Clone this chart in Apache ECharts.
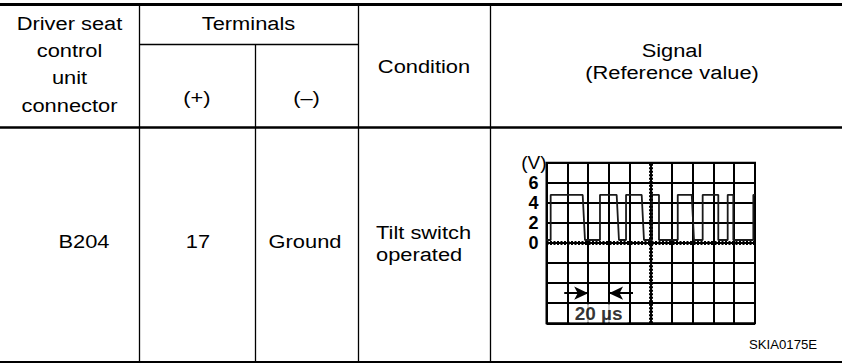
<!DOCTYPE html>
<html>
<head>
<meta charset="utf-8">
<script src="https://cdn.jsdelivr.net/npm/echarts@6/dist/echarts.min.js"></script>
<style>
html,body{margin:0;padding:0;background:#fff;}
#chart{width:842px;height:363px;}
</style>
</head>
<body>
<div id="chart"></div>
<script>
// ---- table content ----
var headConnector = ["Driver seat", "control", "unit", "connector"];
var headTerminals = "Terminals";
var headPlus = "(+)";
var headMinus = "(\u2013)";
var headCondition = "Condition";
var headSignal = ["Signal", "(Reference value)"];
var rowConnector = "B204";
var rowPlus = "17";
var rowMinus = "Ground";
var rowCondition = ["Tilt switch", "operated"];
var figureCode = "SKIA0175E";

// ---- oscilloscope data (time in µs, voltage in V) ----
var waveTime = [0, 4, 4, 34.7, 36.9, 51.3, 51.3, 67.3, 69.5, 76.3, 76.3, 91.3, 93.5, 101.2, 101.2, 107.9, 107.9, 125.9, 125.9, 139.3, 141.5, 149.8, 149.8, 164.8, 164.8, 173.8, 173.8, 179.2, 179.2, 198.4, 198.4, 200];
var waveVolt = [0.3, 0.3, 4.8, 4.8, 0.3, 0.3, 4.8, 4.8, 0.3, 0.3, 4.8, 4.8, 0.3, 0.3, 4.8, 4.8, 0.3, 0.3, 4.8, 4.8, 0.3, 0.3, 4.8, 4.8, 0.3, 0.3, 4.8, 4.8, 0.3, 0.3, 4.8, 4.8];
var voltTickLabels = [0, 2, 4, 6];
var timeRange = [0, 200];
var timeStep = 20;
var voltRange = [-8, 8];
var voltStep = 2;
var scaleSpan = [40, 60];      // the 20 µs division marked by the arrows
var scaleTails = [17, 83];     // arrow tails
var scaleLevel = -5;           // voltage level of the arrows
var scaleLabel = "20 \u00b5s";
var scaleLabelPos = [50, -7];

var wave = waveTime.map(function (t, i) { return [t, waveVolt[i]]; });

var FONT = '"Liberation Sans", Arial, Helvetica, sans-serif';
var FS = 19, SX = 1.15;

function txt(s, x, y, align, size, sx) {
  return {
    type: 'text', x: x, y: y, scaleX: sx || SX, silent: true,
    style: { text: s, fill: '#000', font: (size || FS) + 'px ' + FONT, align: align || 'center', verticalAlign: 'middle' }
  };
}
function ln(x1, y1, x2, y2, w) {
  return { type: 'line', silent: true, shape: { x1: x1, y1: y1, x2: x2, y2: y2 }, style: { stroke: '#000', lineWidth: w } };
}

var graphics = [
  ln(0, 4.5, 842, 4.5, 3),
  ln(0, 127.5, 842, 127.5, 2.5),
  ln(0, 362, 842, 362, 2),
  ln(139.5, 6, 139.5, 361, 1.3),
  ln(255.5, 44, 255.5, 361, 1.3),
  ln(358.5, 6, 358.5, 361, 1.3),
  ln(490.5, 6, 490.5, 361, 1.3),
  ln(139.5, 44.5, 358.5, 44.5, 1.3)
];
var c1y = [22.7, 50.1, 76.7, 105.1];
headConnector.forEach(function (s, i) { graphics.push(txt(s, 69.5, c1y[i])); });
graphics.push(txt(headTerminals, 248.5, 22.7));
graphics.push(txt(headPlus, 197, 97));
graphics.push(txt(headMinus, 306.5, 97));
graphics.push(txt(headCondition, 424, 66));
graphics.push(txt(headSignal[0], 672, 50));
graphics.push(txt(headSignal[1], 672, 72));
graphics.push(txt(rowConnector, 84, 241));
graphics.push(txt(rowPlus, 198, 241));
graphics.push(txt(rowMinus, 305, 241));
graphics.push(txt(rowCondition[0], 376, 232, 'left'));
graphics.push(txt(rowCondition[1], 376, 254, 'left'));
graphics.push(txt(figureCode, 783, 345, 'center', 12, 1.1));

var chart = echarts.init(document.getElementById('chart'), null, { renderer: 'svg' });
chart.setOption({
  animation: false,
  backgroundColor: '#fff',
  grid: { left: 546.5, top: 162.7, width: 208.5, height: 160.6, show: true, borderColor: '#000', borderWidth: 2, backgroundColor: 'transparent' },
  xAxis: {
    type: 'value', min: timeRange[0], max: timeRange[1], interval: timeStep,
    axisLine: { show: false }, axisTick: { show: false }, axisLabel: { show: false },
    splitLine: { show: true, lineStyle: { color: '#000', width: 2 } }
  },
  yAxis: {
    type: 'value', min: voltRange[0], max: voltRange[1], interval: voltStep,
    name: '(V)', nameLocation: 'end', nameGap: 0,
    nameTextStyle: { fontFamily: FONT, fontSize: 19, color: '#000', align: 'right', verticalAlign: 'middle', padding: [0, 0, 0, 0] },
    axisLine: { show: false }, axisTick: { show: false },
    axisLabel: {
      margin: 8, color: '#000', fontFamily: FONT, fontSize: 18, fontWeight: 'bold',
      formatter: function (v) { return voltTickLabels.indexOf(v) >= 0 ? String(v) : ''; }
    },
    splitLine: { show: true, lineStyle: { color: '#000', width: 2 } }
  },
  series: [
    {
      type: 'line', data: wave, showSymbol: false, symbol: 'none',
      lineStyle: { color: '#1a1a1a', width: 1.8 },
      markLine: {
        silent: true, symbol: 'none', label: { show: false },
        lineStyle: { color: '#000', type: [2, 1.5], width: 4 },
        data: [{ xAxis: (timeRange[0] + timeRange[1]) / 2 }, { yAxis: 0 }]
      }
    },
    {
      type: 'line', data: [], showSymbol: false,
      markLine: {
        silent: true, label: { show: false },
        symbol: ['none', 'arrow'], symbolSize: [10, 14],
        lineStyle: { color: '#000', type: 'solid', width: 2 },
        data: [
          [{ coord: [scaleTails[0], scaleLevel] }, { coord: [scaleSpan[0], scaleLevel] }],
          [{ coord: [scaleTails[1], scaleLevel] }, { coord: [scaleSpan[1], scaleLevel] }]
        ]
      }
    },
    {
      type: 'scatter', data: [scaleLabelPos], symbolSize: 0, silent: true, z: 10,
      label: {
        show: true, position: 'inside', formatter: scaleLabel,
        color: '#000', fontFamily: FONT, fontSize: 19, fontWeight: 'bold',
        backgroundColor: '#fff', width: 58, height: 18, lineHeight: 18, align: 'center', verticalAlign: 'middle'
      }
    }
  ],
  graphic: graphics
});
</script>
</body>
</html>
